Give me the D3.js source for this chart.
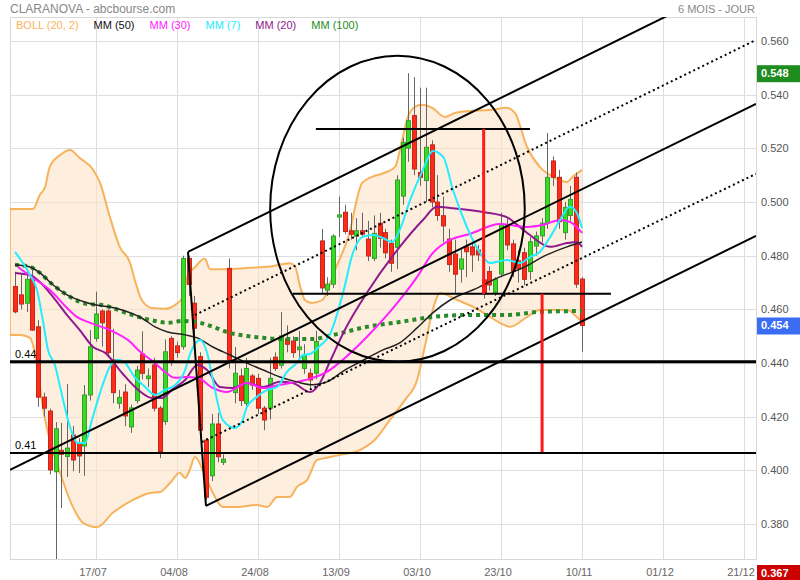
<!DOCTYPE html>
<html><head><meta charset="utf-8">
<script src="https://cdn.jsdelivr.net/npm/d3@7"></script>
<style>body{margin:0;background:#fff} svg{display:block;font-family:Arial,"Liberation Sans",sans-serif}</style>
</head><body><svg id="c" width="800" height="580"></svg>
<script>
// ---- DATA ----
// candles: [open, high, low, close], one per trading day (index 0 = 26/06)
const candles = [
[0.4685,0.4740,0.4585,0.4591],[0.4654,0.4730,0.4600,0.4620],[0.4623,0.4745,0.4590,0.4712],[0.4716,0.4760,0.4520,0.4523],
[0.4535,0.4560,0.4237,0.4273],[0.4273,0.4290,0.4200,0.4232],[0.4221,0.4230,0.3985,0.4002],[0.3995,0.4180,0.3670,0.4155],
[0.4075,0.4177,0.3860,0.4060],[0.4052,0.4322,0.3976,0.4083],[0.4132,0.4165,0.3997,0.4039],[0.4103,0.4120,0.3990,0.4054],
[0.4091,0.4318,0.3980,0.4281],[0.4281,0.4523,0.4260,0.4461],[0.4492,0.4666,0.4480,0.4583],[0.4594,0.4600,0.4461,0.4550],
[0.4594,0.4600,0.4430,0.4439],[0.4412,0.4528,0.4250,0.4290],[0.4250,0.4300,0.4230,0.4272],[0.4292,0.4321,0.4165,0.4203],
[0.4162,0.4245,0.4140,0.4233],[0.4260,0.4390,0.4250,0.4374],[0.4434,0.4518,0.4340,0.4362],[0.4342,0.4380,0.4310,0.4352],
[0.4393,0.4420,0.4220,0.4232],[0.4232,0.4240,0.4046,0.4070],[0.4182,0.4488,0.4170,0.4442],[0.4492,0.4500,0.4390,0.4405],
[0.4464,0.4480,0.4420,0.4439],[0.4461,0.4800,0.4450,0.4790],[0.4790,0.4800,0.4650,0.4693],[0.4623,0.4650,0.4500,0.4530],
[0.4424,0.4440,0.4130,0.4150],[0.4113,0.4120,0.3890,0.3900],[0.3980,0.4210,0.3960,0.4173],[0.4173,0.4215,0.4030,0.4051],
[0.4030,0.4060,0.4020,0.4042],[0.4753,0.4790,0.4380,0.4405],[0.4290,0.4460,0.4250,0.4362],[0.4352,0.4380,0.4240,0.4260],
[0.4250,0.4420,0.4230,0.4380],[0.4352,0.4360,0.4300,0.4318],[0.4343,0.4360,0.4210,0.4232],[0.4232,0.4240,0.4150,0.4188],
[0.4232,0.4420,0.4190,0.4343],[0.4422,0.4440,0.4370,0.4380],[0.4392,0.4590,0.4380,0.4501],[0.4490,0.4540,0.4440,0.4470],
[0.4482,0.4500,0.4420,0.4439],[0.4450,0.4520,0.4400,0.4460],[0.4380,0.4470,0.4360,0.4430],[0.4362,0.4380,0.4300,0.4337],
[0.4362,0.4520,0.4340,0.4480],[0.4855,0.4900,0.4660,0.4680],[0.4672,0.4720,0.4650,0.4694],[0.4694,0.4880,0.4680,0.4873],
[0.4944,0.5020,0.4870,0.4952],[0.4962,0.4990,0.4880,0.4890],[0.4893,0.4960,0.4860,0.4880],[0.4873,0.4940,0.4820,0.4893],
[0.4893,0.4960,0.4870,0.4880],[0.4862,0.4930,0.4780,0.4799],[0.4790,0.4950,0.4780,0.4883],[0.4921,0.4960,0.4830,0.4865],
[0.4886,0.4900,0.4790,0.4811],[0.4846,0.4860,0.4740,0.4772],[0.4831,0.5100,0.4750,0.5082],[0.5022,0.5240,0.4990,0.5222],
[0.5201,0.5480,0.5150,0.5303],[0.5322,0.5465,0.5100,0.5123],[0.5110,0.5426,0.5060,0.5092],[0.5080,0.5426,0.5000,0.5204],
[0.5213,0.5230,0.4980,0.5000],[0.5000,0.5100,0.4930,0.4950],[0.4949,0.5020,0.4850,0.4911],[0.4862,0.4900,0.4740,0.4767],
[0.4806,0.4860,0.4660,0.4731],[0.4750,0.4830,0.4700,0.4788],[0.4833,0.4860,0.4720,0.4815],[0.4833,0.4850,0.4740,0.4803],
[0.4821,0.4840,0.4780,0.4803],[0.4710,0.4740,0.4640,0.4660],[0.4741,0.4760,0.4670,0.4691],[0.4662,0.4720,0.4650,0.4712],
[0.4732,0.4960,0.4720,0.4918],[0.4914,0.4940,0.4820,0.4840],[0.4844,0.4860,0.4720,0.4741],[0.4781,0.4820,0.4700,0.4753],
[0.4811,0.4830,0.4690,0.4712],[0.4741,0.4870,0.4710,0.4852],[0.4836,0.4890,0.4800,0.4874],[0.4874,0.4940,0.4850,0.4921],
[0.4921,0.5257,0.4900,0.5092],[0.5153,0.5170,0.5060,0.5092],[0.5092,0.5120,0.4900,0.4927],[0.4886,0.5000,0.4860,0.4980],
[0.4950,0.5060,0.4930,0.5010],[0.5092,0.5110,0.4680,0.4694],[0.4713,0.4720,0.4442,0.4540]
];
const tickIdx = [14,28,42,56,70,84,98,112,126];
const tickLabels = ["17/07","04/08","24/08","13/09","03/10","23/10","10/11","01/12","21/12"];
const yTicks = [0.38,0.40,0.42,0.44,0.46,0.48,0.50,0.52,0.54,0.56];

// indicator lines as [index, value]
const bollUpper = [[-0.9,0.4974],[3.1,0.4974],[4.3,0.5027],[5.2,0.5056],[6.0,0.5131],[7.8,0.5175],[9.5,0.5194],[11.2,0.5164],[13.5,0.5120],[14.7,0.5071],[16.4,0.4944],[18.1,0.4833],[19.9,0.4773],[20.7,0.4710],[21.9,0.4635],[23.7,0.4605],[25.9,0.4602],[27.7,0.4617],[28.9,0.4643],[29.9,0.4728],[31.1,0.4757],[32.8,0.4790],[33.7,0.4750],[35.4,0.4750],[40.6,0.4755],[44.1,0.4760],[47.5,0.4772],[48.4,0.4760],[49.3,0.4684],[50.1,0.4635],[51.3,0.4624],[53.1,0.4635],[55.3,0.4747],[57.6,0.4870],[60.0,0.5071],[61.7,0.5094],[63.9,0.5109],[65.7,0.5131],[66.9,0.5231],[67.9,0.5317],[69.1,0.5354],[70.3,0.5362],[72.1,0.5351],[74.3,0.5317],[76.0,0.5332],[78.6,0.5339],[82.1,0.5343],[85.0,0.5351],[86.4,0.5332],[88.5,0.5205],[90.7,0.5131],[93.0,0.5094],[95.4,0.5075],[96.4,0.5094],[98.0,0.5120]];
const bollLower = [[-0.9,0.4505],[0.9,0.4505],[2.6,0.4494],[3.1,0.4468],[4.0,0.4363],[4.8,0.4237],[6.0,0.4114],[7.8,0.3991],[10.0,0.3864],[11.8,0.3804],[14.2,0.3789],[16.9,0.3842],[20.4,0.3890],[23.3,0.3916],[25.1,0.3920],[26.8,0.3953],[28.5,0.3991],[29.4,0.3972],[30.2,0.4002],[31.1,0.4050],[32.8,0.3983],[34.2,0.3916],[35.9,0.3864],[38.4,0.3864],[41.8,0.3871],[43.6,0.3864],[45.3,0.3901],[47.5,0.3901],[48.7,0.3938],[50.5,0.3965],[52.2,0.4039],[53.9,0.4047],[56.2,0.4058],[59.6,0.4076],[62.2,0.4114],[64.8,0.4188],[67.4,0.4263],[69.5,0.4337],[70.9,0.4468],[72.2,0.4598],[73.5,0.4661],[76.4,0.4635],[79.2,0.4609],[82.1,0.4572],[83.8,0.4550],[85.6,0.4535],[88.5,0.4572],[90.7,0.4598],[95.4,0.4598],[97.6,0.4561],[98.0,0.4553]];
const mm100 = [[0,0.4766],[2.6,0.4758],[4.3,0.4736],[6.6,0.4691],[9.0,0.4654],[11.2,0.4628],[12.4,0.4620],[14.7,0.4617],[16.4,0.4609],[18.7,0.4591],[21.9,0.4568],[24.2,0.4557],[26.4,0.4550],[29.0,0.4557],[32.0,0.4550],[34.2,0.4535],[37.2,0.4512],[40.1,0.4501],[42.9,0.4494],[45.8,0.4490],[51.5,0.4490],[55.0,0.4505],[60.8,0.4535],[66.5,0.4553],[72.2,0.4572],[78.1,0.4579],[85.0,0.4579],[90.7,0.4591],[98.0,0.4594]];
const mm50 = [[0,0.4766],[2.6,0.4758],[4.3,0.4736],[6.6,0.4691],[9.0,0.4654],[12.6,0.4624],[18.5,0.4598],[21.9,0.4568],[24.2,0.4535],[26.4,0.4516],[29.4,0.4505],[31.5,0.4494],[34.2,0.4460],[37.2,0.4430],[40.1,0.4400],[42.9,0.4374],[45.8,0.4348],[48.7,0.4330],[51.5,0.4319],[53.9,0.4330],[57.0,0.4374],[59.6,0.4404],[63.6,0.4449],[66.5,0.4475],[69.5,0.4531],[72.2,0.4587],[75.2,0.4635],[79.2,0.4673],[83.8,0.4721],[87.8,0.4755],[91.9,0.4803],[95.4,0.4833],[98.0,0.4851]];
const mm30 = [[0.5,0.4758],[3.1,0.4717],[6.0,0.4673],[9.0,0.4605],[10.7,0.4572],[13.0,0.4550],[16.4,0.4523],[19.9,0.4479],[21.3,0.4449],[24.2,0.4400],[25.9,0.4367],[27.7,0.4345],[29.4,0.4348],[31.5,0.4345],[34.2,0.4307],[36.6,0.4292],[40.1,0.4326],[42.9,0.4307],[45.8,0.4319],[48.7,0.4330],[51.5,0.4345],[53.9,0.4367],[56.2,0.4404],[60.8,0.4497],[66.5,0.4635],[69.5,0.4721],[72.2,0.4810],[75.2,0.4859],[78.6,0.4881],[83.8,0.4918],[88.5,0.4907],[91.3,0.4915],[94.2,0.4933],[95.9,0.4926],[98.0,0.4885]];
const mm20 = [[0,0.4736],[2.6,0.4728],[4.3,0.4702],[6.6,0.4646],[9.0,0.4579],[11.2,0.4523],[13.5,0.4460],[15.6,0.4438],[18.5,0.4363],[21.3,0.4300],[23.7,0.4270],[25.4,0.4270],[27.1,0.4300],[29.4,0.4337],[31.5,0.4393],[33.2,0.4374],[35.4,0.4311],[37.7,0.4307],[40.1,0.4326],[42.9,0.4311],[45.8,0.4330],[48.0,0.4326],[51.0,0.4292],[52.7,0.4326],[54.4,0.4404],[57.0,0.4523],[60.8,0.4661],[66.5,0.4833],[70.5,0.4933],[72.9,0.4982],[75.2,0.4978],[80.9,0.4963],[85.0,0.4944],[86.8,0.4915],[89.0,0.4877],[92.5,0.4833],[95.4,0.4847],[97.1,0.4851],[98.0,0.4833]];
const mm7 = [[0,0.4814],[2.6,0.4728],[3.8,0.4672],[4.8,0.4561],[5.7,0.4449],[6.9,0.4393],[7.8,0.4311],[9.5,0.4162],[10.9,0.4102],[12.1,0.4102],[13.3,0.4188],[14.7,0.4289],[16.4,0.4386],[17.8,0.4412],[19.0,0.4401],[20.7,0.4348],[22.5,0.4311],[24.2,0.4281],[25.9,0.4300],[27.7,0.4318],[29.4,0.4374],[30.2,0.4430],[32.0,0.4486],[33.2,0.4438],[34.2,0.4337],[35.9,0.4188],[38.0,0.4158],[39.2,0.4181],[40.1,0.4237],[41.8,0.4274],[43.6,0.4300],[45.3,0.4311],[47.0,0.4367],[48.7,0.4400],[49.8,0.4430],[51.0,0.4434],[52.7,0.4464],[54.4,0.4505],[56.7,0.4661],[58.4,0.4810],[60.1,0.4870],[61.9,0.4877],[63.6,0.4866],[65.2,0.4851],[66.5,0.4896],[68.3,0.5008],[70.5,0.5120],[72.2,0.5190],[74.0,0.5168],[75.7,0.5045],[78.1,0.4907],[80.4,0.4810],[82.1,0.4773],[85.0,0.4784],[87.3,0.4773],[89.0,0.4795],[90.7,0.4814],[92.5,0.4870],[94.2,0.4933],[95.9,0.4982],[97.1,0.4959],[98.0,0.4903]];

// drawn annotations [index, value]
const trendSolid = [[[29.9,0.4814],[118.4,0.5754]],[[-0.86,0.4002],[128.07,0.5366]],[[33.0,0.3868],[128.07,0.4874]],[[29.9,0.4814],[33.0,0.3868]]];
const trendDotted = [[[31.1,0.4579],[128.07,0.5604]],[[32.3,0.4106],[128.07,0.5105]]];
const hSegments = [[[52.0,0.5272],[89.0,0.5272]],[[48.0,0.4658],[103.0,0.4658]]];
const redVerticals = [[81.0,0.5272,0.4658],[91.1,0.4658,0.4065]];
const levels = [[0.4405,"0.44",3],[0.4065,"0.41",2]];
const ellipseCenter = [66.1,0.4975];
const ellipseRadiusIdx = 22.0;
const ellipseRadiusVal = 0.0570;
const priceTags = [[0.548,"0.548","#1e8c1e",0],[0.454,"0.454","#3a6cf4",0],[0.367,"0.367","#cc0000",14]];
const legend = [["BOLL (20, 2)","#f7b25c"],["MM (50)","#111"],["MM (30)","#ff22ff"],["MM (7)","#22eeff"],["MM (20)","#8e1a8e"],["MM (100)","#1e8c1e"]];

// ---- CHART ----
const svg = d3.select("#c");
const L = 10, R = 756, T = 17, B = 559;
const x = d3.scaleLinear().domain([-0.864, 128.07]).range([L, R]);
const y = d3.scaleLinear().domain([0.3670, 0.56894]).range([B, T]);

svg.append("defs").append("clipPath").attr("id","clip").append("rect")
  .attr("x",L).attr("y",T).attr("width",R-L).attr("height",B-T);

// grid
const grid = svg.append("g");
grid.selectAll(".hg").data(yTicks).join("line")
  .attr("x1",L).attr("x2",R).attr("y1",d=>Math.round(y(d))+0.5).attr("y2",d=>Math.round(y(d))+0.5)
  .attr("stroke","#dedede");
grid.selectAll(".vg").data(tickIdx).join("line")
  .attr("y1",T).attr("y2",B).attr("x1",d=>Math.round(x(d))+0.5).attr("x2",d=>Math.round(x(d))+0.5)
  .attr("stroke","#dedede");
svg.append("rect").attr("x",L+0.5).attr("y",T+0.5).attr("width",R-L).attr("height",B-T)
  .attr("fill","none").attr("stroke","#d8d8d8");

const plot = svg.append("g").attr("clip-path","url(#clip)");
const line = d3.line().x(d=>x(d[0])).y(d=>y(d[1])).curve(d3.curveMonotoneX);

// bollinger band
const bandPath = line(bollUpper) + line(bollLower.slice().reverse()).replace(/^M/,"L") + "Z";
plot.append("path").attr("d",bandPath).attr("fill","#fde3c8").attr("fill-opacity",0.6).attr("stroke","none");
plot.append("path").attr("d",line(bollUpper)).attr("fill","none").attr("stroke","#f7b25c").attr("stroke-width",2);
plot.append("path").attr("d",line(bollLower)).attr("fill","none").attr("stroke","#f7b25c").attr("stroke-width",2);
plot.append("line").attr("x1",x(bollUpper[0][0])).attr("x2",x(bollLower[0][0]))
  .attr("y1",y(bollUpper[0][1])).attr("y2",y(bollLower[0][1])).attr("stroke","#f7b25c").attr("stroke-width",2);

// candles
const cg = plot.append("g");
candles.forEach((c,i)=>{
  const [o,h,l,cl] = c; const up = cl>=o; const cx = Math.round(x(i))+0.5;
  cg.append("line").attr("x1",cx).attr("x2",cx).attr("y1",y(h)).attr("y2",y(l)).attr("stroke","#666").attr("stroke-width",1);
  const top = y(Math.max(o,cl)), bot = y(Math.min(o,cl));
  cg.append("rect").attr("x",cx-2).attr("width",4).attr("y",top).attr("height",Math.max(1,bot-top))
    .attr("fill",up?"#33dd22":"#ff2a1a").attr("stroke",up?"#3a9a2e":"#c0281c").attr("stroke-width",1);
});

// moving averages
plot.append("path").attr("d",line(mm100)).attr("fill","none").attr("stroke","#2a8a2a").attr("stroke-width",4).attr("stroke-dasharray","4,4");
plot.append("path").attr("d",line(mm20)).attr("fill","none").attr("stroke","#8e1a8e").attr("stroke-width",2);
plot.append("path").attr("d",line(mm30)).attr("fill","none").attr("stroke","#ff22ff").attr("stroke-width",2);
plot.append("path").attr("d",line(mm50)).attr("fill","none").attr("stroke","#222").attr("stroke-width",1.5);
plot.append("path").attr("d",line(mm7)).attr("fill","none").attr("stroke","#22eeff").attr("stroke-width",2);

// annotations
const sline = d3.line().x(d=>x(d[0])).y(d=>y(d[1]));
trendSolid.forEach(s=>plot.append("path").attr("d",sline(s)).attr("stroke","#000").attr("stroke-width",2).attr("fill","none"));
trendDotted.forEach(s=>plot.append("path").attr("d",sline(s)).attr("stroke","#000").attr("stroke-width",2).attr("stroke-dasharray","2,3").attr("fill","none"));
hSegments.forEach(s=>plot.append("path").attr("d",sline(s)).attr("stroke","#000").attr("stroke-width",2).attr("fill","none"));
redVerticals.forEach(r=>plot.append("line").attr("x1",x(r[0])).attr("x2",x(r[0])).attr("y1",y(r[1])).attr("y2",y(r[2]))
  .attr("stroke","#ff1a1a").attr("stroke-width",3));
levels.forEach(lv=>{
  plot.append("line").attr("x1",L).attr("x2",R).attr("y1",y(lv[0])).attr("y2",y(lv[0])).attr("stroke","#000").attr("stroke-width",lv[2]);
  svg.append("text").attr("x",15).attr("y",y(lv[0])-4).attr("font-size",11).attr("fill","#000").text(lv[1]);
});
plot.append("ellipse").attr("cx",x(ellipseCenter[0])).attr("cy",y(ellipseCenter[1]))
  .attr("rx",x(ellipseCenter[0]+ellipseRadiusIdx)-x(ellipseCenter[0]))
  .attr("ry",y(ellipseCenter[1]-ellipseRadiusVal)-y(ellipseCenter[1]))
  .attr("fill","none").attr("stroke","#000").attr("stroke-width",2);

// y labels
svg.selectAll(".yl").data(yTicks).join("text").attr("x",761).attr("y",d=>y(d)+4)
  .attr("font-size",11).attr("fill","#555").text(d=>d3.format(".3f")(d));
// price tags
priceTags.forEach(p=>{
  const yy = y(p[0]) + p[3];
  svg.append("rect").attr("x",757).attr("y",yy-8).attr("width",43).attr("height",17).attr("fill",p[2]);
  svg.append("text").attr("x",761).attr("y",yy+4).attr("font-size",11).attr("font-weight","bold").attr("fill","#fff").text(p[1]);
});
// x labels
svg.selectAll(".xl").data(tickIdx).join("text").attr("x",(d)=>x(d)-3).attr("y",576).attr("text-anchor","middle")
  .attr("font-size",11).attr("fill","#666").attr("font-family","'Liberation Sans Narrow',Arial,sans-serif")
  .text((d,i)=>tickLabels[i]);

// header
svg.append("text").attr("x",10).attr("y",13).attr("font-size",12).attr("fill","#888").text("CLARANOVA - abcbourse.com");
svg.append("text").attr("x",755).attr("y",13).attr("text-anchor","end").attr("font-size",11).attr("fill","#888").text("6 MOIS - JOUR");
const lg = svg.append("g");
let lx = 16;
legend.forEach(l=>{
  const t = lg.append("text").attr("x",lx).attr("y",29).attr("font-size",11).attr("fill",l[1]).text(l[0]);
  lx += t.node().getComputedTextLength() + 15;
});
</script></body></html>
